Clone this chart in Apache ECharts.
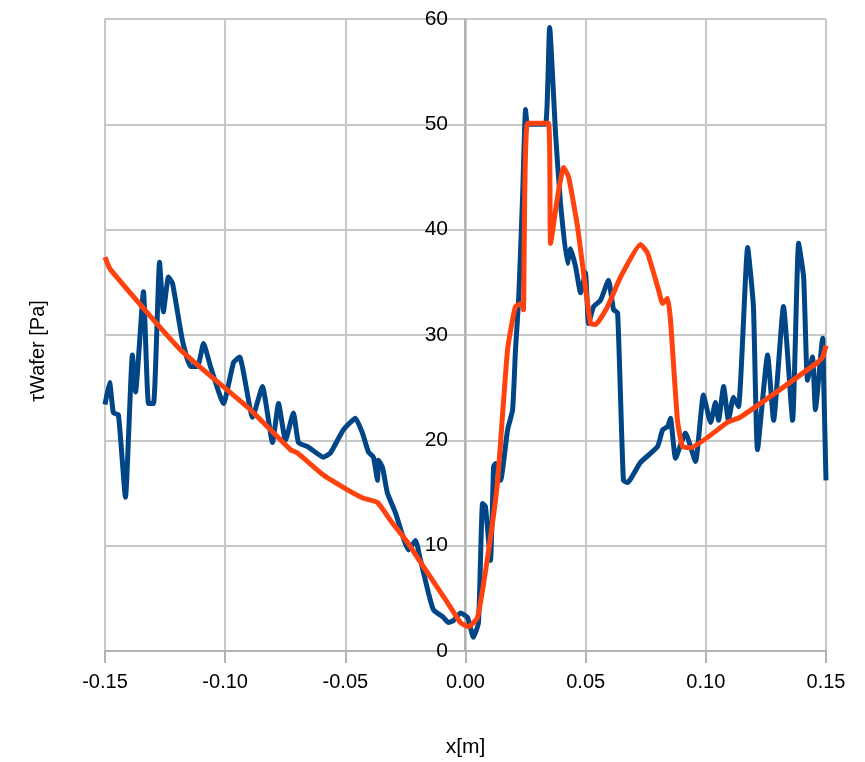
<!DOCTYPE html>
<html>
<head>
<meta charset="utf-8">
<script src="https://cdn.jsdelivr.net/npm/echarts@6/dist/echarts.min.js"></script>
<style>html,body{margin:0;padding:0;background:#fff}#c{width:865px;height:762px}</style>
</head>
<body>
<div id="c"></div>
<script>
var xBlue = [-0.150,-0.1481,-0.1465,-0.1444,-0.1415,-0.1386,-0.1373,-0.1340,-0.1319,-0.1298,-0.1273,-0.1257,-0.1236,-0.1219,-0.1178,-0.1144,-0.1115,-0.1090,-0.1061,-0.1007,-0.0965,-0.0940,-0.0886,-0.0845,-0.0803,-0.0778,-0.0749,-0.0716,-0.0695,-0.0657,-0.0591,-0.0562,-0.0508,-0.0458,-0.0429,-0.0404,-0.0383,-0.0366,-0.0362,-0.0345,-0.0325,-0.0291,-0.0237,-0.0208,-0.0187,-0.0154,-0.0133,-0.0092,-0.0071,-0.0050,-0.0021,0.0008,0.0033,0.0054,0.0071,0.0083,0.0104,0.0117,0.0125,0.0146,0.0175,0.0196,0.0208,0.0221,0.0237,0.0250,0.0258,0.0290,0.0333,0.0350,0.0375,0.0395,0.0424,0.0437,0.0458,0.0479,0.0499,0.0512,0.0533,0.0562,0.0595,0.0616,0.0633,0.0657,0.0674,0.0728,0.0799,0.0820,0.0841,0.0853,0.0874,0.0915,0.0957,0.0990,0.1020,0.1040,0.1053,0.1074,0.1094,0.1115,0.1136,0.1174,0.1198,0.1215,0.1257,0.1282,0.1323,0.1361,0.1386,0.1407,0.1423,0.1444,0.1456,0.1486,0.1490,0.150];
var yBlue = [23.4,25.5,22.6,22.4,14.6,28.1,24.6,34.1,23.5,23.5,36.9,32.2,35.5,34.9,29.5,27.0,27.0,29.2,27.0,23.5,27.4,27.9,22.2,25.1,19.8,23.5,20.0,22.6,19.8,19.4,18.4,18.8,21.0,22.1,20.7,18.9,18.4,16.2,18.1,17.4,15.0,13.1,9.6,10.5,8.6,5.5,3.9,3.2,2.7,2.9,3.6,3.2,1.3,2.7,14.0,13.7,8.6,17.5,17.8,16.2,21.0,22.9,28.6,33.3,42.8,51.4,50.0,50.0,50.0,59.2,49.0,42.6,36.8,38.2,36.5,34.0,35.9,31.1,32.7,33.3,35.2,32.4,32.1,16.2,16.0,17.9,19.4,21.0,21.3,22.1,18.3,20.7,18.0,24.3,21.7,23.6,21.9,25.1,21.9,24.1,23.2,38.3,32.7,19.1,28.1,21.9,32.7,21.9,38.7,35.5,25.7,27.9,22.9,29.7,26.0,16.2];
var xOrange = [-0.150,-0.1477,-0.1186,-0.0895,-0.0728,-0.0699,-0.0591,-0.0491,-0.0424,-0.0366,-0.0312,-0.0241,-0.0175,-0.0075,-0.0021,0.0012,0.0050,0.0092,0.0133,0.0175,0.0208,0.0237,0.0241,0.0258,0.0345,0.0354,0.0383,0.0408,0.0429,0.0466,0.0520,0.0541,0.0591,0.0645,0.0728,0.0757,0.0803,0.0820,0.0841,0.0853,0.0882,0.0903,0.0936,0.1090,0.1144,0.1465,0.1486,0.150];
var yOrange = [37.4,36.2,28.6,22.9,19.1,18.8,16.7,15.3,14.5,14.1,12.4,10.3,8.0,4.6,2.7,2.3,3.2,8.9,16.0,28.6,32.7,33.0,32.4,50.1,50.1,38.7,43.1,45.9,45.0,40.3,31.1,31.0,32.7,35.5,38.6,37.8,34.3,33.0,33.5,31.4,21.9,19.4,19.3,21.7,22.2,27.4,27.9,29.0];
var xAxisName = 'x[m]';
var yAxisName = 'τWafer [Pa]';

function pairs(xs, ys){ return xs.map(function(x,i){ return [x, ys[i]]; }); }

var font = '"Liberation Sans", Arial, sans-serif';
var chart = echarts.init(document.getElementById('c'));
chart.setOption({
  animation: false,
  backgroundColor: '#fff',
  grid: { left: 105, right: 39, top: 19, bottom: 111, containLabel: false, outerBoundsMode: 'none' },
  graphic: [{
    type: 'text', x: 38, y: 351, rotation: Math.PI / 2,
    style: { text: yAxisName, fontFamily: font, fontSize: 20, fill: '#000', align: 'center', verticalAlign: 'middle' }
  }],
  xAxis: {
    type: 'value', min: -0.15, max: 0.15, interval: 0.05,
    name: xAxisName, nameLocation: 'middle', nameGap: 86,
    nameTextStyle: { fontFamily: font, fontSize: 21, color: '#000' },
    axisLine: { onZero: false, lineStyle: { color: '#b3b3b3', width: 2 } },
    axisTick: { show: true, length: 12, lineStyle: { color: '#b3b3b3', width: 2 } },
    axisLabel: { fontFamily: font, fontSize: 20, color: '#000', margin: 21,
      formatter: function(v){ return v.toFixed(2); } },
    splitLine: { show: true, lineStyle: { color: '#c8c8c8', width: 2 } }
  },
  yAxis: {
    type: 'value', min: 0, max: 60, interval: 10, offset: -360,
    axisLine: { onZero: false, lineStyle: { color: '#b3b3b3', width: 2 } },
    axisTick: { show: false },
    axisLabel: { fontFamily: font, fontSize: 21, color: '#000', margin: 17 },
    splitLine: { show: true, lineStyle: { color: '#c8c8c8', width: 2 } }
  },
  series: [
    { type: 'line', data: pairs(xBlue, yBlue), showSymbol: false, smooth: 0.15,
      lineStyle: { color: '#004586', width: 5 }, itemStyle: { color: '#004586' }, z: 2 },
    { type: 'line', data: pairs(xOrange, yOrange), showSymbol: false, smooth: 0.15,
      lineStyle: { color: '#ff420e', width: 5 }, itemStyle: { color: '#ff420e' }, z: 3 }
  ]
});
</script>
</body>
</html>
